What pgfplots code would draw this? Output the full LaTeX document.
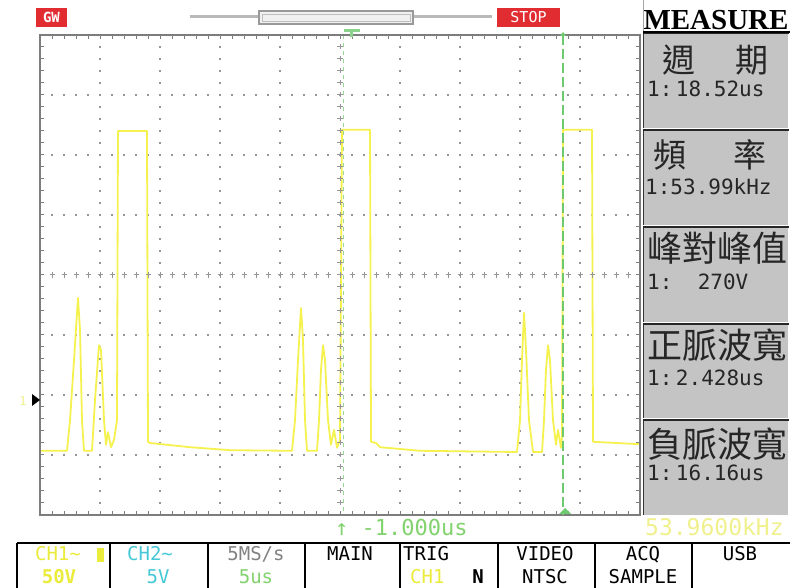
\documentclass[border=0pt]{standalone}
\usepackage{pgfplots}
\pgfplotsset{compat=1.18}
\usepackage{fontspec}
\setmainfont{Liberation Serif}
\newfontfamily\cjk{Noto Sans CJK TC}
\newfontfamily\mono{DejaVu Sans Mono}
\definecolor{wave}{RGB}{245,242,80}
\definecolor{gridgray}{RGB}{150,150,150}
\definecolor{bordergray}{RGB}{125,125,125}
\definecolor{panelgray}{RGB}{196,196,196}
\definecolor{scgreen}{RGB}{110,200,110}
\definecolor{txtyellow}{RGB}{235,235,60}
\definecolor{paleyellow}{RGB}{240,240,140}
\definecolor{txtcyan}{RGB}{70,200,215}
\definecolor{scred}{RGB}{225,45,50}
\definecolor{txtgray}{RGB}{130,130,130}
\definecolor{txtgreen}{RGB}{130,210,110}
\begin{document}
\begin{tikzpicture}
\path[use as bounding box, fill=white] (0,0) rectangle (800pt,588pt);
\begin{axis}[
  at={(40pt,73pt)}, anchor=south west,
  scale only axis, width=600pt, height=480pt,
  xmin=0, xmax=10, ymin=0, ymax=8,
  axis line style={draw=none},
  xtick={1,2,3,4,6,7,8,9}, ytick={1,2,3,5,6,7},
  xticklabels={}, yticklabels={},
  major tick length=0pt,
  grid=major,
  major grid style={draw=gridgray, line width=1.6pt, dash pattern=on 1.8pt off 10.2pt, dash phase=0.9pt},
]
\addplot[wave, line width=1.8pt, line join=round, mark=none] coordinates {
(0,1.07) (0.45,1.07) (0.5,1.58) (0.567,2.58) (0.633,3.62) (0.667,3.08) (0.7,1.58) (0.733,1.07)
(0.867,1.07) (0.917,1.92) (0.983,2.83) (1.017,2.75) (1.067,1.58) (1.1,1.17) (1.133,1.38) (1.183,1.13)
(1.233,1.25) (1.283,1.58) (1.3,6.4) (1.783,6.4) (1.8,1.22) (1.833,1.2) (2.5,1.13) (3.167,1.08)
(4.2,1.07) (4.25,1.58) (4.3,2.58) (4.35,3.45) (4.383,2.92) (4.417,1.58) (4.45,1.07) (4.617,1.07)
(4.65,1.58) (4.683,2.42) (4.717,2.83) (4.75,2.58) (4.8,1.58) (4.85,1.17) (4.9,1.42) (4.95,1.12)
(5.0,1.25) (5.033,6.42) (5.5,6.42) (5.517,1.22) (5.6,1.2) (5.667,1.13) (6.333,1.07) (7.95,1.05)
(8.0,1.58) (8.033,2.58) (8.067,3.37) (8.1,2.75) (8.15,1.58) (8.217,1.05) (8.367,1.05) (8.4,1.58)
(8.433,2.42) (8.467,2.83) (8.5,2.58) (8.55,1.58) (8.6,1.17) (8.633,1.42) (8.683,1.12) (8.7,1.3)
(8.717,6.42) (9.2,6.42) (9.217,1.22) (10,1.18)
};
\end{axis}
\begin{scope}[x=1pt,y=-1pt,yshift=588pt]
% trigger line (green) at centre
\draw[scgreen!70, line width=1pt, dash pattern=on 4pt off 4pt] (343,35) -- (343,515);
% centre crosses
\foreach \k in {1,...,49}{
  \pgfmathsetmacro\xx{40+12*\k}
  \draw[gridgray, line width=1pt] (\xx,272) -- (\xx,278) (\xx-2.5,275) -- (\xx+2.5,275);
}
\foreach \k in {1,...,39}{
  \pgfmathsetmacro\yy{35+12*\k}
  \draw[gridgray, line width=1pt] (337,\yy) -- (343,\yy) (340,\yy-2.5) -- (340,\yy+2.5);
}
% border
\draw[bordergray, line width=1.5pt] (40,35) rectangle (640,515);
\foreach \k in {1,...,49}{
  \pgfmathsetmacro\xx{40+12*\k}
  \draw[bordergray, line width=1pt] (\xx,35) -- (\xx,39) (\xx,515) -- (\xx,511);
}
\foreach \k in {1,...,39}{
  \pgfmathsetmacro\yy{35+12*\k}
  \draw[bordergray, line width=1pt] (40,\yy) -- (44,\yy) (640,\yy) -- (636,\yy);
}
% cursor line
\draw[scgreen, line width=1.2pt, dash pattern=on 10pt off 4pt] (563,35) -- (563,515);
\fill[scgreen] (560,36) -- (566,36) -- (563,32) -- cycle;
\fill[scgreen] (559,514) -- (571,514) -- (565,508) -- cycle;
% trigger marker top
\fill[scgreen!80] (344,29) rectangle (360,32);
\fill[scgreen!80] (350,29) rectangle (353,37);
% channel marker
\node[text=paleyellow, font=\mono\fontsize{12}{12}\selectfont, inner sep=0] at (23,401) {1};
\fill[black] (32,394) -- (32,406) -- (40,400) -- cycle;
% top bar
\fill[scred] (36,8) rectangle (67,27);
\node[text=white, font=\mono\bfseries\fontsize{14}{14}\selectfont, inner sep=0] at (51.5,17.5) {GW};
\draw[gray!55, line width=3pt] (190,17) -- (259,17) (413,17) -- (492,17);
\draw[gray!80, line width=1.5pt, fill=gray!12] (259,11) rectangle (413,24);
\draw[gray!50, line width=0.8pt] (262,14) rectangle (410,21);
\fill[scred] (497,8) rectangle (560,27);
\node[text=white, font=\mono\fontsize{15}{15}\selectfont, inner sep=0] at (528.5,17.5) {STOP};
% right panel
\draw[gray!70, line width=1pt] (643,0) -- (643,33);
\node[anchor=base, inner sep=0, font=\bfseries\fontsize{29}{29}\selectfont] at (716,30) {MEASURE};
\foreach \a/\b in {33/128,130/225,227/322,324/418,420/515}{
  \fill[panelgray] (643,\a) rectangle (788,\b);
  \draw[gray!40!black, line width=0.8pt] (643,\a) -- (643,\b);
  \draw[black!85, line width=2pt] (643,\a) -- (789,\a);
}
\draw[black, line width=2pt] (643,32) -- (790,32);
\begin{scope}[every node/.style={inner sep=0, text=black!85}]
\node[anchor=base, font=\cjk\fontsize{33}{33}\selectfont] at (679,72.5) {週};
\node[anchor=base, font=\cjk\fontsize{33}{33}\selectfont] at (752,72.5) {期};
\node[anchor=base west, font=\mono\fontsize{21}{21}\selectfont] at (647,97) {1:\,18.52us};
\node[anchor=base, font=\cjk\fontsize{33}{33}\selectfont] at (670,167.5) {頻};
\node[anchor=base, font=\cjk\fontsize{33}{33}\selectfont] at (750,167.5) {率};
\node[anchor=base west, font=\mono\fontsize{21}{21}\selectfont] at (645,195) {1:53.99kHz};
\node[anchor=base, font=\cjk\fontsize{35}{35}\selectfont] at (717,262) {峰對峰值};
\node[anchor=base west, font=\mono\fontsize{21}{21}\selectfont] at (647,290) {1:\ \ 270V};
\node[anchor=base, font=\cjk\fontsize{35}{35}\selectfont] at (717,359) {正脈波寬};
\node[anchor=base west, font=\mono\fontsize{21}{21}\selectfont] at (647,386) {1:\,2.428us};
\node[anchor=base, font=\cjk\fontsize{35}{35}\selectfont] at (717,458) {負脈波寬};
\node[anchor=base west, font=\mono\fontsize{21}{21}\selectfont] at (647,481) {1:\,16.16us};
\end{scope}
% bottom status line
\node[anchor=base west, inner sep=0, text=txtgreen, font=\mono\fontsize{22}{22}\selectfont] at (335,536) {↑ -1.000us};
\node[anchor=base west, inner sep=0, text=paleyellow, font=\mono\fontsize{23}{23}\selectfont] at (645,536) {53.9600kHz};
% menu
\draw[black, line width=1.5pt] (17,543) -- (790,543);
\foreach \xx in {17,110,208,305,400,498,595,692}{
  \draw[black, line width=1.5pt] (\xx,543) -- (\xx,588);
}
\begin{scope}[every node/.style={inner sep=0, anchor=base, font=\mono\fontsize{19}{19}\selectfont}]
\node[text=txtyellow] at (58,561) {CH1∼};
\fill[txtyellow] (97,548) rectangle (104,562);
\node[text=txtyellow, font=\mono\bfseries\fontsize{19}{19}\selectfont] at (59,584) {50V};
\node[text=txtcyan] at (150,561) {CH2∼};
\node[text=txtcyan] at (158,584) {5V};
\node[text=txtgray] at (256,561) {5MS/s};
\node[text=txtgreen] at (256,584) {5us};
\node[text=black] at (350,561) {MAIN};
\node[text=black, anchor=base west] at (403,561) {TRIG};
\node[text=txtyellow, anchor=base west] at (410,584) {CH1};
\node[text=black, font=\mono\bfseries\fontsize{19}{19}\selectfont] at (478,584) {N};
\node[text=black] at (545,561) {VIDEO};
\node[text=black] at (545,584) {NTSC};
\node[text=black] at (643,561) {ACQ};
\node[text=black] at (643,584) {SAMPLE};
\node[text=black] at (740,561) {USB};
\end{scope}
\end{scope}
\end{tikzpicture}
\end{document}
